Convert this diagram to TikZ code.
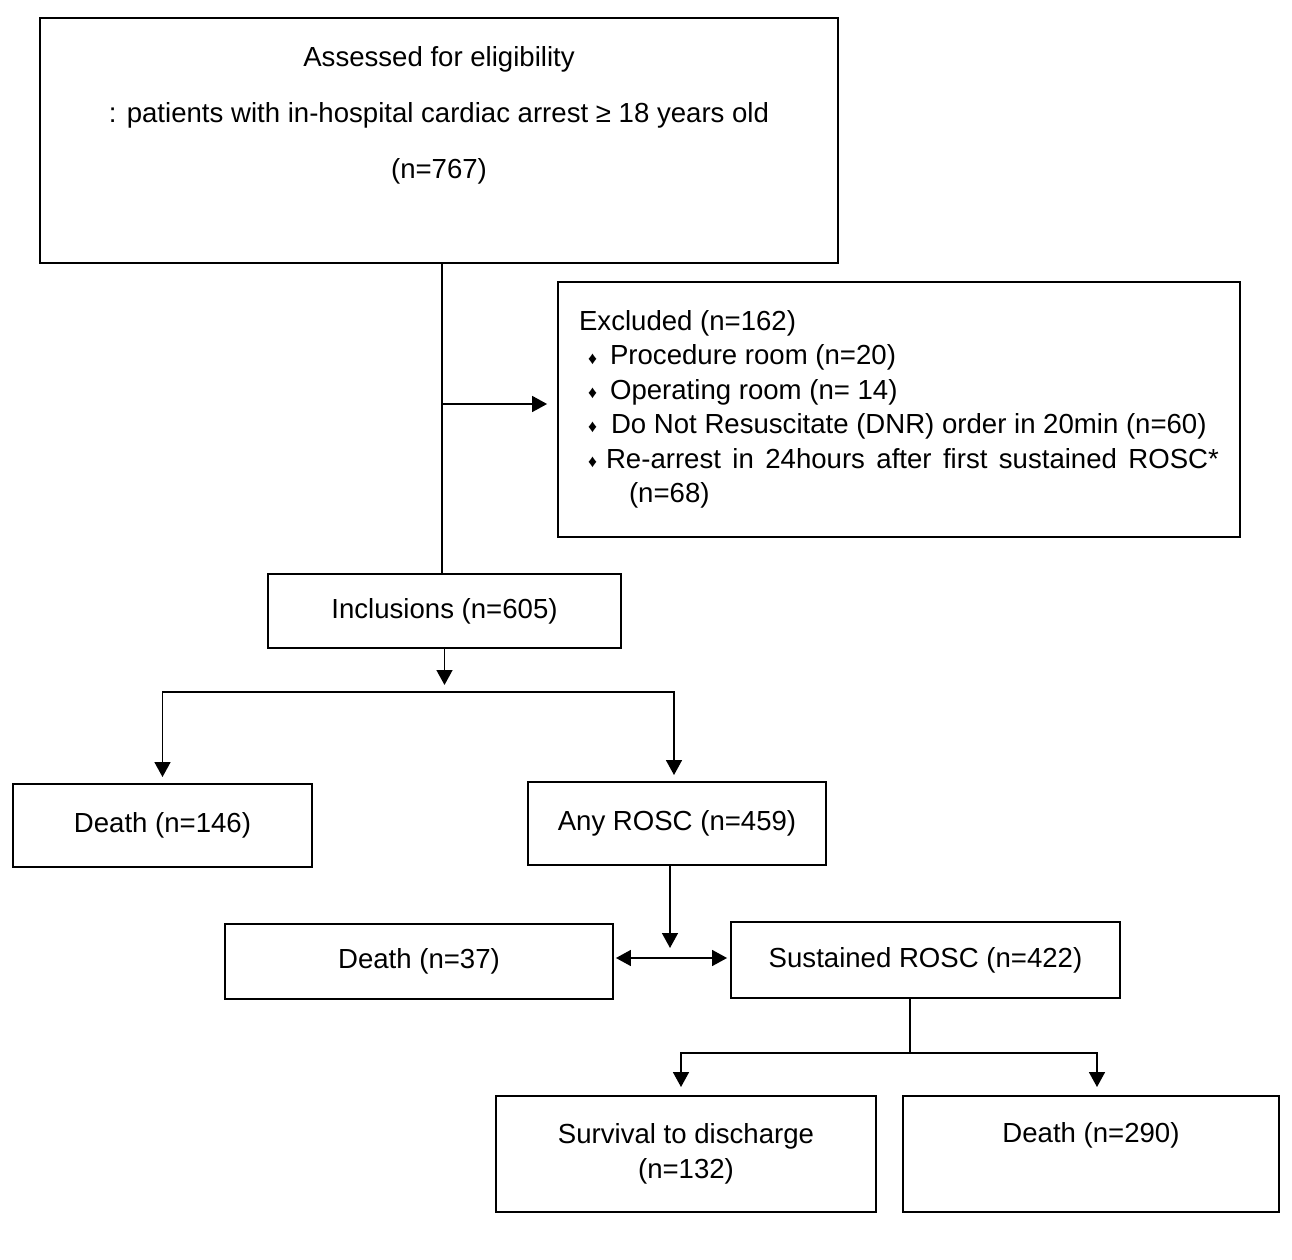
\documentclass[tikz,border=0pt]{standalone}
\usepackage{fontspec}
\setmainfont{Liberation Sans}
\usetikzlibrary{arrows.meta}

% bullet line of the exclusion list
\newcommand{\exitem}[2][0.44cm]{\hspace*{0.18cm}\makebox[#1][l]{\raisebox{0.5pt}{\fontsize{10}{10}\selectfont ♦}}#2}

\begin{document}
\begin{tikzpicture}[
    x=0.02cm,y=-0.02cm,
    font=\fontsize{15.7}{19.6}\selectfont,
    box/.style={draw,line width=1.1pt,inner sep=0pt,align=center},
    link/.style={line width=1.1pt},
    arr/.style={link,-{Triangle[length=8.5pt,width=9pt]}},
    twoway/.style={link,{Triangle[length=8.5pt,width=9pt]}-{Triangle[length=8.5pt,width=9pt]}}
    ]

    \useasboundingbox (0,0) rectangle (1292,1260);

    \node (assess) [box,minimum width=15.96cm,minimum height=4.9cm,
      font=\fontsize{15.7}{31.75}\selectfont] at (439,140.5)
      {Assessed for eligibility\\: patients with in-hospital cardiac arrest ≥ 18 years old\\(n=767)\\\mbox{}};

    \node (excl) [box,align=left,minimum width=13.64cm,minimum height=5.1cm] at (899,409.5)
      {Excluded (n=162)\\
       \exitem{Procedure room (n=20)}\\
       \exitem{Operating room (n= 14)}\\
       \exitem[0.46cm]{Do Not Resuscitate (DNR) order in 20min (n=60)}\\
       \exitem[0.36cm]{\makebox[12.26cm][s]{Re-arrest in 24hours after first sustained ROSC*}}\\
       \hspace*{1cm}(n=68)};

    \node (incl) [box,minimum width=7.06cm,minimum height=1.48cm] at (444.5,611) {Inclusions (n=605)};

    \node (death1) [box,minimum width=5.98cm,minimum height=1.66cm] at (162.5,825.5) {Death (n=146)};
    \node (rosc) [box,minimum width=5.96cm,minimum height=1.66cm] at (677,823.5) {Any ROSC (n=459)};

    \node (death2) [box,minimum width=7.76cm,minimum height=1.5cm] at (419,961.5) {Death (n=37)};
    \node (sust) [box,minimum width=7.78cm,minimum height=1.52cm] at (925.5,960) {Sustained ROSC (n=422)};

    \node (surv) [box,minimum width=7.6cm,minimum height=2.32cm] at (686,1154) {Survival to discharge\\(n=132)};
    \node (death3) [box,minimum width=7.52cm,minimum height=2.32cm] at (1091,1154) {Death (n=290)\\[0.16cm]\mbox{}};

    % assessed -> inclusions, with the exclusion branch
    \coordinate (exc) at (442,404);
    \draw[link] (exc |- assess.south) -- (exc |- incl.north);
    \draw[arr,shorten >=0.2cm] (exc) -- (exc -| excl.west);

    % inclusions -> death / any ROSC
    \coordinate (fork1) at (444.5,692);
    \draw[arr,shorten >=0.14cm] (incl.south) -- (fork1);
    \draw[arr,shorten >=0.12cm] (fork1) -| (death1.north);
    \draw[arr,shorten >=0.12cm] (fork1) -| ([xshift=-0.06cm]rosc.north);

    % any ROSC -> death / sustained ROSC
    \coordinate (mid) at (670,958);
    \draw[arr,shorten >=0.2cm] (mid |- rosc.south) -- (mid);
    \draw[twoway,shorten <=0.04cm,shorten >=0.06cm] (mid -| death2.east) -- (mid -| sust.west);

    % sustained ROSC -> outcome
    \coordinate (fork2) at (910,1053);
    \draw[link] (fork2 |- sust.south) -- (fork2);
    \draw[arr,shorten >=0.16cm] (fork2) -| ([xshift=-0.1cm]surv.north);
    \draw[arr,shorten >=0.16cm] (fork2) -| ([xshift=0.12cm]death3.north);

  \end{tikzpicture}
\end{document}
